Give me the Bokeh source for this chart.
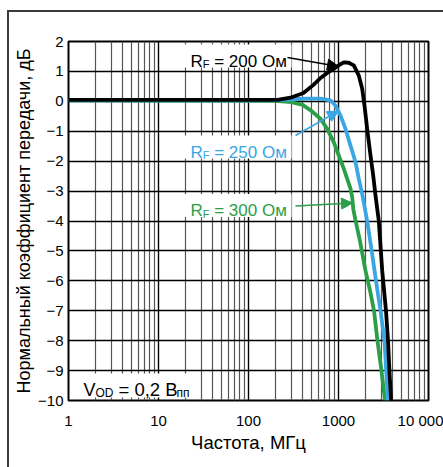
from bokeh.plotting import figure
from bokeh.models import Range1d, FixedTicker, Label, Arrow, NormalHead
from bokeh.embed import file_html
from bokeh.resources import INLINE

# ---- data ----
freq_200 = [1, 210, 293, 408, 527, 631, 749, 900, 1050, 1146, 1300, 1479, 1682,
            1834, 1944, 2083, 2268, 2430, 2577, 2805, 3060, 3370, 3550, 3680, 3840]
gain_200 = [0.05, 0.05, 0.12, 0.28, 0.55, 0.78, 0.95, 1.1, 1.24, 1.3, 1.29, 1.2, 0.86,
            0.42, -0.14, -0.92, -1.81, -2.48, -3.15, -4.0, -5.66, -7.0, -8.0, -9.0, -10.0]

freq_250 = [1, 100, 200, 300, 450, 631, 815, 926, 1052, 1196, 1359, 1545, 1682,
            1834, 2083, 2300, 2512, 2700, 2930, 3243, 3388, 3532]
gain_250 = [0.03, 0.03, 0.04, 0.07, 0.09, 0.09, 0.03, -0.14, -0.47, -0.92, -1.48,
            -2.03, -2.59, -3.1, -4.0, -4.85, -5.65, -6.3, -7.0, -8.0, -9.0, -10.0]

freq_300 = [1, 200, 300, 400, 490, 631, 749, 887, 1007, 1146, 1250, 1359, 1420,
            1460, 1545, 1726, 1995, 2268, 2480, 2710, 3000, 3290]
gain_300 = [0.03, 0.02, -0.03, -0.12, -0.3, -0.58, -0.92, -1.37, -1.81, -2.26, -2.59,
            -2.92, -3.2, -3.6, -3.98, -4.65, -5.66, -6.4, -7.0, -8.0, -9.0, -10.0]

x_ticks = [1, 10, 100, 1000, 10000]
x_tick_labels = ["1", "10", "100", "1000", "10 000"]
y_ticks = [2, 1, 0, -1, -2, -3, -4, -5, -6, -7, -8, -9, -10]
y_tick_labels = ["2", "1", "0", "\u22121", "\u22122", "\u22123", "\u22124", "\u22125",
                 "\u22126", "\u22127", "\u22128", "\u22129", "\u221210"]

series_names = ["200", "250", "300"]
series_colors = ["#000000", "#3aa6e3", "#2b9e48"]

# ---- layout (page pixels) ----
OX, OY = 9, 12                    # canvas origin inside the page (outer frame at 7/10)
W, H = 443 - OX, 467 - OY
FL, FR, FT, FB = 68, 428, 41, 400  # plot frame in page pixels
FONT = "Liberation Sans"

def fx(px):
    return 10 ** ((px - FL) / (FR - FL) * 4)

def fy(py):
    return 2 - (py - FT) / (FB - FT) * 12

p = figure(width=W, height=H, x_axis_type="log",
           x_range=Range1d(1, 10000), y_range=Range1d(-10, 2),
           output_backend="svg", toolbar_location=None,
           min_border_left=FL - OX, min_border_right=W - (FR - OX),
           min_border_top=FT - OY, min_border_bottom=H - (FB - OY))
p.margin = (OY, 0, 0, OX)
p.styles = {"outline": "2px solid #3a3a3a"}
p.background_fill_color = "white"
p.border_fill_color = "white"
p.outline_line_color = "black"
p.outline_line_width = 2

minor = [m * 10 ** d for d in range(4) for m in range(2, 10)]
p.xaxis.ticker = FixedTicker(ticks=x_ticks, minor_ticks=minor)
p.yaxis.ticker = FixedTicker(ticks=y_ticks)
p.xaxis.major_label_overrides = {t: s for t, s in zip(x_ticks, x_tick_labels)}
p.yaxis.major_label_overrides = {t: s for t, s in zip(y_ticks, y_tick_labels)}

p.xgrid.grid_line_color = "black"
p.xgrid.grid_line_width = 1.4
p.xgrid.minor_grid_line_color = "#555555"
p.xgrid.minor_grid_line_width = 1.2
p.ygrid.grid_line_color = "black"
p.ygrid.grid_line_width = 1.4

for ax in p.axis:
    ax.axis_line_color = None
    ax.major_tick_line_color = None
    ax.minor_tick_line_color = None
    ax.major_tick_out = 0
    ax.major_tick_in = 0
    ax.minor_tick_out = 0
    ax.minor_tick_in = 0
    ax.major_label_text_font = FONT
    ax.major_label_text_font_size = "15px"
    ax.major_label_text_color = "black"
    ax.axis_label_text_font = FONT
    ax.axis_label_text_font_style = "normal"
    ax.axis_label_text_color = "black"

p.xaxis.axis_label = "Частота, МГц"
p.yaxis.axis_label = "Нормальный коэффициент передачи, дБ"
p.xaxis.axis_label_text_font_size = "18.5px"
p.yaxis.axis_label_text_font_size = "18px"
p.xaxis.major_label_standoff = 11
p.xaxis.axis_label_standoff = 0
p.yaxis.major_label_standoff = 5
p.yaxis.axis_label_standoff = 1

# ---- white boxes behind the in-plot texts ----
label_py = [60.5, 151.5, 210]
box_l = [183] * 3 + [70]
box_r = [291] * 3 + [199]
box_t = [py - 16.5 for py in label_py] + [373]
box_b = [py + 6.5 for py in label_py] + [397]
p.quad(left=[fx(v) for v in box_l], right=[fx(v) for v in box_r],
       top=[fy(v) for v in box_t], bottom=[fy(v) for v in box_b],
       fill_color="white", line_color=None)

# ---- curves ----
for fr, g, c in [(freq_300, gain_300, series_colors[2]),
                 (freq_250, gain_250, series_colors[1]),
                 (freq_200, gain_200, series_colors[0])]:
    p.line(fr, g, line_color=c, line_width=3.8, line_join="round")

# ---- annotations ----
def sub_label(px, py, main, sub, rest, color, size, subsize, w_main, w_sub, gap, dy):
    x, y = fx(px), fy(py)
    common = dict(text_font=FONT, text_color=color, text_baseline="alphabetic",
                  text_align="left")
    p.add_layout(Label(x=x, y=y, text=main, text_font_size=f"{size}px", **common))
    p.add_layout(Label(x=x, y=y, x_offset=w_main, y_offset=-dy, text=sub,
                       text_font_size=f"{subsize}px", **common))
    p.add_layout(Label(x=x, y=y, x_offset=w_main + w_sub + gap, text=rest,
                       text_font_size=f"{size}px", **common))

for name, c, py in zip(series_names, series_colors, label_py):
    sub_label(190, py, "R", "F", f"= {name} Ом", c, 17, 11, 12.3, 6.7, 4.7, 3)

arrows = [((287, 57), (338, 66)), ((295, 135), (338, 110.5)), ((295, 205.5), (352, 202.5))]
for (s, e), c in zip(arrows, series_colors):
    p.add_layout(Arrow(end=NormalHead(size=11, fill_color=c, line_color=c, line_width=1),
                       x_start=fx(s[0]), y_start=fy(s[1]), x_end=fx(e[0]), y_end=fy(e[1]),
                       line_color=c, line_width=1.5))

# V_OD = 0,2 Впп
vx, vy = fx(83), fy(389.3)
common = dict(text_font=FONT, text_color="black", text_baseline="alphabetic", text_align="left")
p.add_layout(Label(x=vx, y=vy, text="V", text_font_size="18px", **common))
p.add_layout(Label(x=vx, y=vy, x_offset=12, y_offset=-3, text="OD", text_font_size="12px", **common))
p.add_layout(Label(x=vx, y=vy, x_offset=35, text="= 0,2 В", text_font_size="18.5px", **common))
p.add_layout(Label(x=vx, y=vy, x_offset=93, y_offset=-3, text="пп", text_font_size="12px", **common))

open("out.html", "w").write(file_html(p, INLINE))
